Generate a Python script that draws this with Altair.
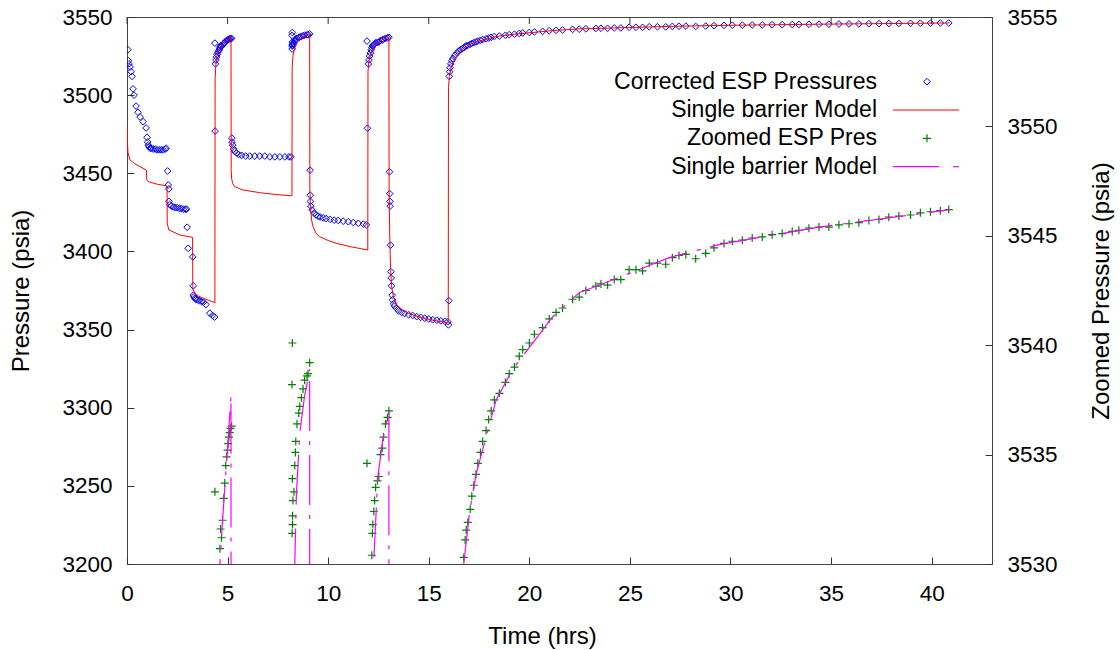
import altair as alt
import pandas as pd

# ---------------- data ----------------
ESP_T = [0.05, 0.07, 0.1, 0.15, 0.2, 0.25, 0.3, 0.35, 0.45, 0.55, 0.65, 0.8, 0.95, 1.0, 1.03, 1.06, 1.1, 1.15, 1.2, 1.3,
         1.4, 1.5, 1.6, 1.7, 1.8, 1.9, 1.95,
         2.02, 2.05, 2.08, 2.09, 2.12, 2.2, 2.3, 2.4, 2.5, 2.6, 2.7, 2.8, 2.9, 2.96,
         2.99, 3.04, 3.27, 3.29, 3.3, 3.33, 3.37, 3.42, 3.5, 3.6, 3.7, 3.8, 3.92, 4.12, 4.25, 4.35,
         4.37, 4.38, 4.4, 4.42, 4.45, 4.48, 4.52, 4.56, 4.6, 4.62, 4.65, 4.7, 4.75, 4.81, 4.86, 4.91, 4.95, 5.0, 5.03,
         5.07, 5.11, 5.15, 5.2,
         5.21, 5.22, 5.25, 5.3, 5.35, 5.45, 5.55, 5.7, 5.9, 6.1, 6.35, 6.6, 6.85, 7.1, 7.35, 7.6, 7.85, 8.05, 8.15,
         8.2, 8.21, 8.21, 8.22, 8.22, 8.23, 8.23, 8.25, 8.3, 8.34, 8.37, 8.39, 8.45, 8.54, 8.59, 8.67, 8.75, 8.83,
         8.95, 9.0, 9.08,
         9.1, 9.11, 9.12, 9.14, 9.2, 9.3, 9.4, 9.5, 9.6, 9.75, 9.9, 10.1, 10.3, 10.5, 10.75, 11.0, 11.25, 11.5, 11.75,
         11.9, 11.93, 11.95,
         12.0, 12.03, 12.06, 12.1, 12.14, 12.17, 12.2, 12.22, 12.27, 12.31, 12.36, 12.45, 12.52, 12.6, 12.69, 12.75,
         12.85, 12.95, 13.02,
         13.05, 13.06, 13.07, 13.08, 13.1, 13.12, 13.13, 13.15, 13.18, 13.2, 13.25, 13.3, 13.4, 13.5, 13.65, 13.8,
         14.0, 14.2, 14.4, 14.6, 14.8, 15.0, 15.2, 15.4, 15.6, 15.8, 15.95, 15.98, 16.0,
         16.02, 16.04, 16.06, 16.1, 16.15, 16.2, 16.3, 16.4, 16.5, 16.6, 16.67, 16.74, 16.81, 16.86, 16.94, 17.06,
         17.14, 17.24, 17.35, 17.44, 17.57, 17.68, 17.85, 17.98, 18.1, 18.26, 18.51, 18.81, 19.0, 19.26, 19.5, 19.67,
         20.0, 20.25, 20.66, 20.99, 21.33, 21.65, 22.15, 22.48, 22.81, 23.31, 23.56, 23.89, 24.22, 24.55, 24.96,
         25.3, 25.63, 25.96, 26.37, 26.78, 27.11, 27.44, 27.78, 28.27, 28.77, 29.18, 29.68, 30.09, 30.59, 31.08,
         31.58, 32.07, 32.57, 33.07, 33.4, 33.9, 34.4, 34.89, 35.39, 35.89, 36.38, 36.88, 37.38, 37.87, 38.37,
         38.95, 39.44, 39.94, 40.43, 40.85]
ESP_P = [3529, 3522, 3520, 3518, 3515, 3512, 3504, 3500, 3493, 3489, 3486, 3483, 3479, 3473, 3470, 3468, 3467, 3466, 3466, 3465.5,
         3465.5, 3465, 3465, 3465, 3465, 3465.5, 3466,
         3451.5, 3442.5, 3440, 3432, 3430, 3429, 3428.5, 3428, 3428, 3427.5, 3427.5, 3427, 3427, 3427,
         3415.5, 3402, 3396.5, 3378, 3372, 3371, 3370, 3369.5, 3369, 3368.5, 3368, 3367.5, 3366, 3360.5, 3359, 3358,
         3533.3, 3477, 3520, 3522.5, 3524.5, 3526, 3527.5, 3528.5, 3529.5, 3530.7, 3531.6, 3531.2, 3532.0, 3533.0, 3533.7, 3534.5, 3534.9, 3535.2, 3535.5,
         3535.8, 3536.0, 3536.2, 3536.3,
         3472.5, 3470, 3468, 3465.5, 3464, 3463, 3462, 3461.5, 3461, 3461, 3461, 3461, 3461, 3460.5, 3460.5, 3460.5, 3460.5, 3460.5, 3460.5,
         3538.2, 3529.5, 3531.4, 3540.1, 3533.9, 3532.2, 3531.8, 3532.9, 3533.3, 3534.5, 3535.1, 3535.6, 3536.4, 3536.9, 3537.2, 3537.6, 3538.0, 3538.4,
         3538.6, 3538.7, 3539.2,
         3452, 3436, 3432, 3429, 3426.5, 3424.5, 3423.3, 3422.5, 3422, 3421.5, 3421, 3420.5, 3420, 3419.8, 3419.3, 3419, 3418.5, 3418, 3417.5,
         3417, 3534.6, 3478.8,
         3520, 3522.5, 3525, 3527, 3529, 3530.4, 3531.4, 3531.8, 3532.4, 3532.9, 3533.5, 3533.8, 3534.0, 3535.0, 3535.3, 3535.8,
         3536.4, 3536.7, 3537.0,
         3451, 3437, 3432, 3429, 3404, 3387, 3383, 3378, 3372, 3369, 3366.5, 3365, 3363.5, 3362, 3361, 3360.3,
         3359.5, 3359, 3358.3, 3357.8, 3357.3, 3356.8, 3356.3, 3356, 3355.6, 3355.3, 3355, 3353, 3368.5,
         3512, 3515, 3517.5, 3520, 3522, 3523.5, 3525.5, 3527, 3528.3, 3529.2, 3529.8, 3530.3, 3531.1, 3531.55, 3531.9, 3532.5,
         3533.1, 3533.6, 3534.1, 3534.6, 3535.1, 3535.6, 3536.1, 3536.6, 3537.0, 3537.5, 3537.8, 3538.3, 3538.7, 3539.0, 3539.5, 3539.8,
         3540.1, 3540.5, 3540.8, 3541.2, 3541.5, 3541.7, 3542.1, 3542.2, 3542.5, 3542.7, 3542.8, 3542.75, 3543.0, 3543.0, 3543.45,
         3543.45, 3543.4, 3543.75, 3543.75, 3543.7, 3544.0, 3544.1, 3544.15, 3543.95, 3544.2, 3544.45, 3544.65, 3544.75, 3544.8, 3544.9,
         3544.95, 3545.05, 3545.1, 3545.2, 3545.25, 3545.35, 3545.4, 3545.4, 3545.5, 3545.55, 3545.6, 3545.7, 3545.75, 3545.85, 3545.9,
         3545.95, 3546.05, 3546.1, 3546.15, 3546.2]

MODEL_T = [0.0, 0.02, 0.05, 0.15, 0.4, 0.65, 0.97, 0.98, 1.05, 1.5, 1.96, 1.99, 2.0, 2.04, 2.08, 2.3, 2.63, 3.26, 3.27,
           3.29, 3.45, 3.8, 4.37, 4.38, 4.41, 4.45, 4.52, 4.62, 4.75, 4.9, 5.05, 5.17, 5.18, 5.2, 5.25, 5.36, 5.77,
           6.6, 7.4, 8.2, 8.21, 8.25, 8.3, 8.34, 8.42, 8.59, 8.83, 9.08, 9.09, 9.12, 9.18, 9.25, 9.4, 9.58, 10.0, 10.4,
           11.2, 11.97, 11.98, 12.03, 12.1, 12.18, 12.26, 12.47, 12.72, 13.02, 13.03, 13.06, 13.1, 13.15, 13.25, 13.4,
           13.7, 14.0, 14.4, 15.0, 15.5, 15.97, 15.98, 16.03, 16.1, 16.2, 16.36, 16.5, 16.62, 16.74, 17.02, 17.35,
           17.85, 18.35, 19.17, 20.17, 21.16, 22.48, 24.47, 26.95, 29.43, 31.9, 34.4, 36.9, 39.35, 40.9]
MODEL_P = [3480, 3470, 3463, 3458.5, 3456, 3454.2, 3452, 3446, 3444.7, 3443, 3442, 3441.5, 3418, 3415.8, 3413.7, 3412.5, 3410.5, 3409, 3378,
           3375.3, 3372, 3370, 3367.2, 3510, 3518, 3524, 3527.5, 3530, 3532, 3534, 3536, 3537.7, 3452, 3446.8, 3443.5, 3441.4, 3439.3,
           3437.6, 3436.4, 3435.6, 3518, 3525, 3528.3, 3530, 3533.2, 3536, 3537.7, 3538.9, 3440, 3428, 3420, 3415.8, 3411.5, 3409.4, 3407, 3405.2,
           3402.8, 3400.9, 3515, 3522, 3526, 3528.5, 3530, 3534, 3535.7, 3537, 3440, 3410, 3390, 3378, 3370.5, 3366,
           3362.5, 3360.5, 3358.5, 3356.5, 3355.2, 3354.4, 3505, 3512, 3517, 3520.5, 3524.6, 3527, 3528.8, 3530, 3532.3, 3534.1,
           3535.8, 3537.5, 3538.9, 3540.1, 3541.3, 3542.4, 3543.1, 3544.0, 3544.6, 3545.0, 3545.4, 3545.7, 3546.0, 3546.2]

X_TICKS = [0, 5, 10, 15, 20, 25, 30, 35, 40]
Y_TICKS = [3200, 3250, 3300, 3350, 3400, 3450, 3500, 3550]
Y2_TICKS = [3530, 3535, 3540, 3545, 3550, 3555]
LEGEND_LABELS = ["Corrected ESP Pressures", "Single barrier Model", "Zoomed ESP Pres", "Single barrier Model"]

esp = pd.DataFrame({"t": ESP_T, "p": ESP_P})
model = pd.DataFrame({"t": MODEL_T, "p": MODEL_P, "o": list(range(len(MODEL_T)))})
xticks = pd.DataFrame({"t": X_TICKS})

# ---------------- styling ----------------
FONT = "Liberation Sans"
W, H = 865, 547
TICK_FS = 22.5
TITLE_FS = 24
LEG_FS = 23

x_scale = alt.Scale(domain=[0, 43], nice=False, zero=False)
y_scale = alt.Scale(domain=[3200, 3550], nice=False, zero=False)
y2_scale = alt.Scale(domain=[3530, 3555], nice=False, zero=False)

common = dict(offset=-7, tickSize=7, domain=False, grid=False, tickColor="#333333",
              labelFont=FONT, labelFontSize=TICK_FS, labelColor="black", format="d",
              titleFont=FONT, titleFontSize=TITLE_FS, titleFontWeight="normal", titleColor="black",
              titleAlign="center", titleBaseline="middle", labelOverlap=False, labelFlush=False)

x_axis = alt.Axis(values=X_TICKS, title="Time (hrs)", orient="bottom", labelPadding=18,
                  titleX=415, titleY=79, **common)
y_axis = alt.Axis(values=Y_TICKS, title="Pressure (psia)", orient="left", labelPadding=15,
                  titleX=-113, titleY=H / 2, titleAngle=270, **common)
y2_axis = alt.Axis(values=Y2_TICKS, title="Zoomed Pressure (psia)", orient="right", labelPadding=15,
                   titleX=116, titleY=H / 2, titleAngle=270, **common)

x_enc = alt.X("t:Q", scale=x_scale, axis=x_axis)
y_enc = alt.Y("p:Q", scale=y_scale, axis=y_axis)
y2_enc = alt.Y("p:Q", scale=y2_scale, axis=y2_axis)

BLUE = "#0000ff"
RED = "#ff0000"
GREEN = "#008000"
MAGENTA = "#ff00ff"
CROSS = "M-1,0L1,0M0,-1L0,1"
DASH = [50, 10, 4, 10]

blue = alt.Chart(esp).mark_point(shape="diamond", filled=False, color=BLUE, size=45,
                                 strokeWidth=1, opacity=1, clip=True).encode(x=x_enc, y=y_enc)
red = alt.Chart(model).mark_line(color=RED, strokeWidth=1, clip=True).encode(
    x=x_enc, y=y_enc, order="o:Q")
top_ticks = alt.Chart(xticks).mark_rule(color="#333333", strokeWidth=1).encode(
    x=x_enc, y=alt.value(0), y2=alt.value(7))

green = alt.Chart(esp).mark_point(shape=CROSS, filled=False, color=GREEN, size=64,
                                  strokeWidth=1.2, opacity=1, clip=True).encode(x=x_enc, y=y2_enc)
magenta = alt.Chart(model).mark_line(color=MAGENTA, strokeWidth=1.2, strokeDash=DASH, clip=True).encode(
    x=x_enc, y=y2_enc, order="o:Q")

left = alt.layer(blue, red, top_ticks)
right = alt.layer(green, magenta)

# ---------------- key (drawn inside the plot, top right) ----------------
ROW_Y = [64.7, 93, 121.3, 149.7]
TXT_X = 750
one = alt.Data(values=[{}])
legend_layers = []
for lab, yy in zip(LEGEND_LABELS, ROW_Y):
    legend_layers.append(
        alt.Chart(alt.Data(values=[{"label": lab}])).mark_text(
            align="right", baseline="middle", font=FONT, fontSize=LEG_FS, color="black"
        ).encode(x=alt.value(TXT_X), y=alt.value(yy), text="label:N")
    )
legend_layers.append(alt.Chart(one).mark_point(shape="diamond", filled=False, color=BLUE, size=45,
                                               strokeWidth=1, opacity=1).encode(
    x=alt.value(800), y=alt.value(ROW_Y[0])))
legend_layers.append(alt.Chart(one).mark_rule(color=RED, strokeWidth=1).encode(
    x=alt.value(766), x2=alt.value(832), y=alt.value(ROW_Y[1])))
legend_layers.append(alt.Chart(one).mark_point(shape=CROSS, filled=False, color=GREEN, size=64,
                                               strokeWidth=1.2, opacity=1).encode(
    x=alt.value(800), y=alt.value(ROW_Y[2])))
legend_layers.append(alt.Chart(one).mark_rule(color=MAGENTA, strokeWidth=1.2).encode(
    x=alt.value(766), x2=alt.value(812), y=alt.value(ROW_Y[3])))
legend_layers.append(alt.Chart(one).mark_rule(color=MAGENTA, strokeWidth=1.2).encode(
    x=alt.value(826), x2=alt.value(832), y=alt.value(ROW_Y[3])))

chart = alt.layer(left, right, *legend_layers).resolve_scale(y="independent").properties(
    width=W, height=H,
    padding={"left": 127, "top": 17, "right": 128, "bottom": 86},
    autosize=alt.AutoSizeParams(type="none"),
    background="white",
).configure_view(stroke="#444444", strokeWidth=1)

chart.save("out.html", embed_options={"renderer": "svg", "actions": False})
